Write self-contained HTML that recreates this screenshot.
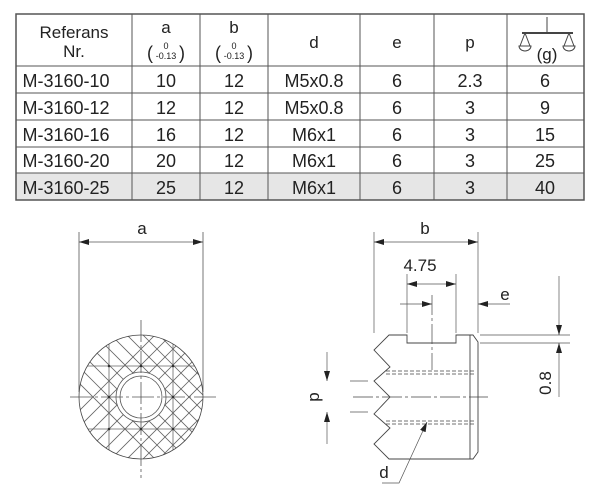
<!DOCTYPE html>
<html><head><meta charset="utf-8"><style>
html,body{margin:0;width:600px;height:502px;background:#fff;overflow:hidden;font-family:"Liberation Sans",sans-serif;}
svg{position:absolute;left:0;top:0;display:block}
</style></head><body>
<svg width="600" height="502" viewBox="0 0 600 502" font-family="Liberation Sans, sans-serif" fill="#222">
<defs>
<marker id="ar" viewBox="0 0 10 6" refX="10" refY="3" markerWidth="10" markerHeight="6" markerUnits="userSpaceOnUse" orient="auto-start-reverse"><path d="M0,0L10,3L0,6z" fill="#222"/></marker>
<clipPath id="cc"><circle cx="141" cy="397" r="62"/></clipPath>
</defs>
<!-- table -->
<rect x="16" y="173" width="568" height="27" fill="#e6e6e6"/>
<g stroke="#555" stroke-width="1" fill="none">
<rect x="16" y="14" width="568" height="186" stroke-width="1.5"/>
<line x1="16" y1="66" x2="584" y2="66"/><line x1="16" y1="93" x2="584" y2="93"/>
<line x1="16" y1="120" x2="584" y2="120"/><line x1="16" y1="147" x2="584" y2="147"/>
<line x1="16" y1="173" x2="584" y2="173"/>
<line x1="132" y1="14" x2="132" y2="200"/><line x1="200" y1="14" x2="200" y2="200"/>
<line x1="268" y1="14" x2="268" y2="200"/><line x1="360" y1="14" x2="360" y2="200"/>
<line x1="434" y1="14" x2="434" y2="200"/><line x1="507" y1="14" x2="507" y2="200"/>
</g>
<g font-size="17" text-anchor="middle">
<text x="74" y="38">Referans</text><text x="74" y="57">Nr.</text>
<text x="166" y="33">a</text><text x="234" y="33">b</text>
<text x="314" y="48">d</text><text x="397" y="48">e</text><text x="470" y="48">p</text>
<text x="547" y="60">(g)</text>
</g>
<g font-size="9" text-anchor="middle"><text x="166" y="49">0</text><text x="166" y="59">-0.13</text><text x="234" y="49">0</text><text x="234" y="59">-0.13</text></g>
<g font-size="18" text-anchor="middle" font-weight="200"><text x="150" y="59">(</text><text x="182" y="59">)</text><text x="218" y="59">(</text><text x="250" y="59">)</text></g>
<g stroke="#444" fill="none" stroke-width="1"><line x1="522" y1="33" x2="573" y2="33" stroke-width="2"/><line x1="547" y1="17" x2="547" y2="33"/><line x1="525" y1="33" x2="520" y2="46"/><line x1="525" y1="33" x2="530" y2="46"/><path d="M519,46h12a6,5 0 0 1 -12,0z"/><line x1="569" y1="33" x2="564" y2="46"/><line x1="569" y1="33" x2="574" y2="46"/><path d="M563,46h12a6,5 0 0 1 -12,0z"/></g>
<g font-size="18" text-anchor="middle">
<g><text x="66" y="87">M-3160-10</text><text x="166" y="87">10</text><text x="234" y="87">12</text><text x="314" y="87">M5x0.8</text><text x="397" y="87">6</text><text x="470" y="87">2.3</text><text x="545" y="87">6</text></g>
<g><text x="66" y="114">M-3160-12</text><text x="166" y="114">12</text><text x="234" y="114">12</text><text x="314" y="114">M5x0.8</text><text x="397" y="114">6</text><text x="470" y="114">3</text><text x="545" y="114">9</text></g>
<g><text x="66" y="141">M-3160-16</text><text x="166" y="141">16</text><text x="234" y="141">12</text><text x="314" y="141">M6x1</text><text x="397" y="141">6</text><text x="470" y="141">3</text><text x="545" y="141">15</text></g>
<g><text x="66" y="167">M-3160-20</text><text x="166" y="167">20</text><text x="234" y="167">12</text><text x="314" y="167">M6x1</text><text x="397" y="167">6</text><text x="470" y="167">3</text><text x="545" y="167">25</text></g>
<g><text x="66" y="194">M-3160-25</text><text x="166" y="194">25</text><text x="234" y="194">12</text><text x="314" y="194">M6x1</text><text x="397" y="194">6</text><text x="470" y="194">3</text><text x="545" y="194">40</text></g>
</g>
<!-- left drawing -->
<g stroke="#555" stroke-width="0.8" fill="none">
<line x1="79" y1="232" x2="79" y2="392"/><line x1="203" y1="232" x2="203" y2="392"/>
<line x1="79" y1="242" x2="203" y2="242" marker-start="url(#ar)" marker-end="url(#ar)"/>
<g clip-path="url(#cc)" stroke="#666">
<path d="M45,253 L289,497 M45,269 L289,513 M45,285 L289,529 M45,301 L289,545 M45,317 L289,561 M45,333 L289,577 M45,349 L289,593 M45,237 L289,481 M45,221 L289,465 M45,205 L289,449 M45,189 L289,433 M45,173 L289,417 M45,157 L289,401 M45,141 L289,385"/>
<path d="M45,541 L289,297 M45,525 L289,281 M45,509 L289,265 M45,493 L289,249 M45,477 L289,233 M45,461 L289,217 M45,445 L289,201 M45,557 L289,313 M45,573 L289,329 M45,589 L289,345 M45,605 L289,361 M45,621 L289,377 M45,637 L289,393"/>
<path d="M109,330V470M173,330V470M70,366H220M70,429H220"/>
</g>
<circle cx="141" cy="397" r="25" fill="#fff" stroke="#555"/>
<circle cx="141" cy="397" r="21" stroke="#555"/>
<circle cx="141" cy="397" r="62" stroke="#444"/>
<line x1="70" y1="397" x2="218" y2="397" stroke-dasharray="22,3,3,3"/>
<line x1="141" y1="320" x2="141" y2="478" stroke-dasharray="22,3,3,3"/>
</g>
<g fill="#333"><circle cx="109" cy="366" r="1.3"/><circle cx="141" cy="366" r="1.3"/><circle cx="173" cy="366" r="1.3"/><circle cx="109" cy="397" r="1.3"/><circle cx="173" cy="397" r="1.3"/><circle cx="109" cy="429" r="1.3"/><circle cx="141" cy="429" r="1.3"/><circle cx="173" cy="429" r="1.3"/></g>
<text x="142" y="234" font-size="17" text-anchor="middle">a</text>
<!-- right drawing -->
<g stroke="#444" stroke-width="0.9" fill="none">
<path d="M389,335 L407,335 L407,343 L456,343 L456,335 L473,335 L478,342 L478,452 L473,459 L389,459 L374,444 L390,428 L374,414 L390,397 L374,381 L390,367 L374,350 Z"/>
<line x1="470" y1="335" x2="470" y2="459"/>
<g stroke-dasharray="4,2" stroke-width="0.7"><line x1="386" y1="371" x2="474" y2="371"/><line x1="386" y1="374" x2="474" y2="374"/><line x1="386" y1="421" x2="474" y2="421"/><line x1="386" y1="424" x2="474" y2="424"/></g>
<line x1="353" y1="397" x2="488" y2="397" stroke-dasharray="20,3,3,3" stroke-width="0.7"/>
<line x1="432" y1="295" x2="432" y2="370" stroke-dasharray="20,3,3,3" stroke-width="0.7"/>
<g stroke-width="0.7" stroke="#555">
<line x1="374" y1="232" x2="374" y2="333"/><line x1="478" y1="232" x2="478" y2="333"/>
<line x1="374" y1="242" x2="478" y2="242" marker-start="url(#ar)" marker-end="url(#ar)"/>
<line x1="407" y1="274" x2="407" y2="333"/><line x1="456" y1="274" x2="456" y2="333"/>
<line x1="407" y1="284" x2="456" y2="284" marker-start="url(#ar)" marker-end="url(#ar)"/>
<line x1="400" y1="304" x2="432" y2="304" marker-end="url(#ar)"/>
<line x1="510" y1="304" x2="478" y2="304" marker-end="url(#ar)"/>
<line x1="480" y1="335" x2="570" y2="335"/><line x1="480" y1="343" x2="570" y2="343"/>
<line x1="559" y1="276" x2="559" y2="335" marker-end="url(#ar)"/>
<line x1="559" y1="397" x2="559" y2="343" marker-end="url(#ar)"/>
<line x1="350" y1="381" x2="368" y2="381"/><line x1="350" y1="412" x2="368" y2="412"/>
<line x1="327" y1="352" x2="327" y2="381" marker-end="url(#ar)"/>
<line x1="327" y1="444" x2="327" y2="412" marker-end="url(#ar)"/>
<path d="M382,483 L399,483 L427,422" marker-end="url(#ar)"/>
</g>
</g>
<g font-size="17" text-anchor="middle">
<text x="425" y="234">b</text><text x="420" y="271">4.75</text><text x="505" y="300">e</text>
<text x="384" y="478">d</text>
<text transform="translate(551,383) rotate(-90)">0.8</text>
<text transform="translate(319,397) rotate(-90)">p</text>
</g>
</svg>
</body></html>
